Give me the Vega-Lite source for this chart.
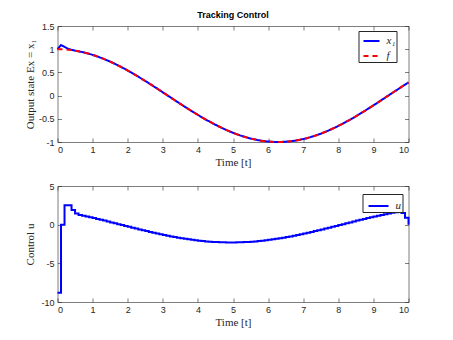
{
  "$schema": "https://vega.github.io/schema/vega-lite/v6.json",
  "background": "white",
  "padding": {"left": 23.5, "top": 11, "right": 5, "bottom": 5},
  "datasets": {
    "top": [
      {"t":0,"x1":1,"f":1},{"t":0.1,"x1":1.09,"f":0.999},{"t":0.2,"x1":1.05,"f":0.995},{"t":0.3,"x1":1.01,"f":0.989},{"t":0.4,"x1":0.985,"f":0.98},
      {"t":0.5,"x1":0.969,"f":0.969},{"t":0.6,"x1":0.955,"f":0.955},{"t":0.7,"x1":0.939,"f":0.939},{"t":0.8,"x1":0.921,"f":0.921},{"t":0.9,"x1":0.9,"f":0.9},
      {"t":1,"x1":0.878,"f":0.878},{"t":1.1,"x1":0.853,"f":0.853},{"t":1.2,"x1":0.825,"f":0.825},{"t":1.3,"x1":0.796,"f":0.796},{"t":1.4,"x1":0.765,"f":0.765},
      {"t":1.5,"x1":0.732,"f":0.732},{"t":1.6,"x1":0.697,"f":0.697},{"t":1.7,"x1":0.66,"f":0.66},{"t":1.8,"x1":0.622,"f":0.622},{"t":1.9,"x1":0.582,"f":0.582},
      {"t":2,"x1":0.54,"f":0.54},{"t":2.1,"x1":0.498,"f":0.498},{"t":2.2,"x1":0.454,"f":0.454},{"t":2.3,"x1":0.408,"f":0.408},{"t":2.4,"x1":0.362,"f":0.362},
      {"t":2.5,"x1":0.315,"f":0.315},{"t":2.6,"x1":0.268,"f":0.268},{"t":2.7,"x1":0.219,"f":0.219},{"t":2.8,"x1":0.17,"f":0.17},{"t":2.9,"x1":0.121,"f":0.121},
      {"t":3,"x1":0.071,"f":0.071},{"t":3.1,"x1":0.021,"f":0.021},{"t":3.2,"x1":-0.029,"f":-0.029},{"t":3.3,"x1":-0.079,"f":-0.079},{"t":3.4,"x1":-0.129,"f":-0.129},
      {"t":3.5,"x1":-0.178,"f":-0.178},{"t":3.6,"x1":-0.227,"f":-0.227},{"t":3.7,"x1":-0.276,"f":-0.276},{"t":3.8,"x1":-0.323,"f":-0.323},{"t":3.9,"x1":-0.37,"f":-0.37},
      {"t":4,"x1":-0.416,"f":-0.416},{"t":4.1,"x1":-0.461,"f":-0.461},{"t":4.2,"x1":-0.505,"f":-0.505},{"t":4.3,"x1":-0.547,"f":-0.547},{"t":4.4,"x1":-0.589,"f":-0.589},
      {"t":4.5,"x1":-0.628,"f":-0.628},{"t":4.6,"x1":-0.666,"f":-0.666},{"t":4.7,"x1":-0.703,"f":-0.703},{"t":4.8,"x1":-0.737,"f":-0.737},{"t":4.9,"x1":-0.77,"f":-0.77},
      {"t":5,"x1":-0.801,"f":-0.801},{"t":5.1,"x1":-0.83,"f":-0.83},{"t":5.2,"x1":-0.857,"f":-0.857},{"t":5.3,"x1":-0.882,"f":-0.882},{"t":5.4,"x1":-0.904,"f":-0.904},
      {"t":5.5,"x1":-0.924,"f":-0.924},{"t":5.6,"x1":-0.942,"f":-0.942},{"t":5.7,"x1":-0.958,"f":-0.958},{"t":5.8,"x1":-0.971,"f":-0.971},{"t":5.9,"x1":-0.982,"f":-0.982},
      {"t":6,"x1":-0.99,"f":-0.99},{"t":6.1,"x1":-0.996,"f":-0.996},{"t":6.2,"x1":-0.999,"f":-0.999},{"t":6.3,"x1":-1,"f":-1},{"t":6.4,"x1":-0.998,"f":-0.998},
      {"t":6.5,"x1":-0.994,"f":-0.994},{"t":6.6,"x1":-0.987,"f":-0.987},{"t":6.7,"x1":-0.978,"f":-0.978},{"t":6.8,"x1":-0.967,"f":-0.967},{"t":6.9,"x1":-0.953,"f":-0.953},
      {"t":7,"x1":-0.936,"f":-0.936},{"t":7.1,"x1":-0.918,"f":-0.918},{"t":7.2,"x1":-0.897,"f":-0.897},{"t":7.3,"x1":-0.874,"f":-0.874},{"t":7.4,"x1":-0.848,"f":-0.848},
      {"t":7.5,"x1":-0.821,"f":-0.821},{"t":7.6,"x1":-0.791,"f":-0.791},{"t":7.7,"x1":-0.759,"f":-0.759},{"t":7.8,"x1":-0.726,"f":-0.726},{"t":7.9,"x1":-0.691,"f":-0.691},
      {"t":8,"x1":-0.654,"f":-0.654},{"t":8.1,"x1":-0.615,"f":-0.615},{"t":8.2,"x1":-0.575,"f":-0.575},{"t":8.3,"x1":-0.533,"f":-0.533},{"t":8.4,"x1":-0.49,"f":-0.49},
      {"t":8.5,"x1":-0.446,"f":-0.446},{"t":8.6,"x1":-0.401,"f":-0.401},{"t":8.7,"x1":-0.355,"f":-0.355},{"t":8.8,"x1":-0.307,"f":-0.307},{"t":8.9,"x1":-0.259,"f":-0.259},
      {"t":9,"x1":-0.211,"f":-0.211},{"t":9.1,"x1":-0.162,"f":-0.162},{"t":9.2,"x1":-0.112,"f":-0.112},{"t":9.3,"x1":-0.062,"f":-0.062},{"t":9.4,"x1":-0.012,"f":-0.012},
      {"t":9.5,"x1":0.038,"f":0.038},{"t":9.6,"x1":0.088,"f":0.088},{"t":9.7,"x1":0.137,"f":0.137},{"t":9.8,"x1":0.187,"f":0.187},{"t":9.9,"x1":0.235,"f":0.235},
      {"t":10,"x1":0.284,"f":0.284}
    ],
    "ctrl": [
      {"t":0,"u":-8.8},{"t":0.1,"u":0},{"t":0.2,"u":2.5},{"t":0.3,"u":2.5},{"t":0.4,"u":1.9},
      {"t":0.5,"u":1.45},{"t":0.6,"u":1.26},{"t":0.7,"u":1.16},{"t":0.8,"u":1.06},{"t":0.9,"u":0.957},
      {"t":1,"u":0.851},{"t":1.1,"u":0.744},{"t":1.2,"u":0.634},{"t":1.3,"u":0.523},{"t":1.4,"u":0.41},
      {"t":1.5,"u":0.296},{"t":1.6,"u":0.182},{"t":1.7,"u":0.067},{"t":1.8,"u":-0.048},{"t":1.9,"u":-0.163},
      {"t":2,"u":-0.277},{"t":2.1,"u":-0.391},{"t":2.2,"u":-0.504},{"t":2.3,"u":-0.615},{"t":2.4,"u":-0.725},
      {"t":2.5,"u":-0.833},{"t":2.6,"u":-0.94},{"t":2.7,"u":-1.043},{"t":2.8,"u":-1.144},{"t":2.9,"u":-1.243},
      {"t":3,"u":-1.338},{"t":3.1,"u":-1.43},{"t":3.2,"u":-1.518},{"t":3.3,"u":-1.602},{"t":3.4,"u":-1.683},
      {"t":3.5,"u":-1.759},{"t":3.6,"u":-1.831},{"t":3.7,"u":-1.898},{"t":3.8,"u":-1.961},{"t":3.9,"u":-2.018},
      {"t":4,"u":-2.071},{"t":4.1,"u":-2.118},{"t":4.2,"u":-2.161},{"t":4.3,"u":-2.197},{"t":4.4,"u":-2.228},
      {"t":4.5,"u":-2.254},{"t":4.6,"u":-2.274},{"t":4.7,"u":-2.289},{"t":4.8,"u":-2.297},{"t":4.9,"u":-2.3},
      {"t":5,"u":-2.297},{"t":5.1,"u":-2.289},{"t":5.2,"u":-2.274},{"t":5.3,"u":-2.254},{"t":5.4,"u":-2.228},
      {"t":5.5,"u":-2.197},{"t":5.6,"u":-2.161},{"t":5.7,"u":-2.118},{"t":5.8,"u":-2.071},{"t":5.9,"u":-2.018},
      {"t":6,"u":-1.961},{"t":6.1,"u":-1.898},{"t":6.2,"u":-1.831},{"t":6.3,"u":-1.759},{"t":6.4,"u":-1.683},
      {"t":6.5,"u":-1.602},{"t":6.6,"u":-1.518},{"t":6.7,"u":-1.43},{"t":6.8,"u":-1.338},{"t":6.9,"u":-1.243},
      {"t":7,"u":-1.144},{"t":7.1,"u":-1.043},{"t":7.2,"u":-0.94},{"t":7.3,"u":-0.833},{"t":7.4,"u":-0.725},
      {"t":7.5,"u":-0.615},{"t":7.6,"u":-0.504},{"t":7.7,"u":-0.391},{"t":7.8,"u":-0.277},{"t":7.9,"u":-0.163},
      {"t":8,"u":-0.048},{"t":8.1,"u":0.067},{"t":8.2,"u":0.182},{"t":8.3,"u":0.296},{"t":8.4,"u":0.41},
      {"t":8.5,"u":0.523},{"t":8.6,"u":0.634},{"t":8.7,"u":0.744},{"t":8.8,"u":0.851},{"t":8.9,"u":0.957},
      {"t":9,"u":1.06},{"t":9.1,"u":1.161},{"t":9.2,"u":1.259},{"t":9.3,"u":1.354},{"t":9.4,"u":1.445},
      {"t":9.5,"u":1.532},{"t":9.6,"u":1.616},{"t":9.7,"u":1.7},{"t":9.8,"u":1.5},{"t":9.9,"u":0.9},
      {"t":10,"u":0}
    ]
  },
  "config": {
    "font": "Liberation Sans",
    "view": {"stroke": null},
    "axis": {
      "grid": false,
      "labelFont": "Liberation Sans", "labelFontSize": 9, "labelColor": "#262626",
      "domainColor": "#262626", "domainWidth": 0.6,
      "tickColor": "#262626", "tickWidth": 0.6, "tickSize": -4,
      "titleFont": "Liberation Serif", "titleFontSize": 11, "titleFontWeight": "normal", "titleColor": "#262626"
    },
    "axisX": {"labelPadding": 7, "titlePadding": 2},
    "axisY": {"labelPadding": 7.5, "titlePadding": 6},
    "legend": {
      "orient": "none",
      "strokeColor": "#262626", "fillColor": "white", "padding": 1, "cornerRadius": 0,
      "symbolType": "stroke", "symbolStrokeWidth": 2, "symbolSize": 256, "symbolOffset": 3, "labelOffset": 6,
      "labelFont": "Liberation Serif", "labelFontStyle": "italic", "labelFontSize": 11, "labelColor": "#262626",
      "rowPadding": 1, "title": null
    }
  },
  "bounds": "flush",
  "spacing": 44,
  "resolve": {"scale": {"color": "independent", "strokeDash": "independent"}},
  "vconcat": [
    {
      "width": 351, "height": 116,
      "title": {"text": "Tracking Control", "font": "Liberation Sans", "fontSize": 9, "fontWeight": "bold", "color": "#000000", "offset": 2},
      "data": {"name": "top"},
      "layer": [
        {
          "transform": [{"fold": ["x1"], "as": ["series", "value"]}],
          "mark": {"type": "line", "strokeWidth": 2},
          "encoding": {
            "x": {"field": "t", "type": "quantitative", "scale": {"domain": [0, 10], "nice": false},
                  "axis": {"values": [0,1,2,3,4,5,6,7,8,9,10], "title": "Time [t]", "labelExpr": "'' + datum.value"}},
            "y": {"field": "value", "type": "quantitative", "scale": {"domain": [-1, 1.5], "nice": false},
                  "axis": {"values": [-1,-0.5,0,0.5,1,1.5], "title": "Output state Ex = x₁", "labelExpr": "'' + datum.value", "titleX": -27, "titleBaseline": "middle"}},
            "color": {"field": "series", "type": "nominal", "scale": {"domain": ["x1", "f"], "range": ["#0000ff", "#ff0000"]},
                      "legend": {"labelExpr": "datum.label == 'x1' ? 'x₁' : datum.label", "legendX": 301, "legendY": 5}},
            "strokeDash": {"field": "series", "type": "nominal", "scale": {"domain": ["x1", "f"], "range": [[1, 0], [5, 4]]},
                      "legend": {"labelExpr": "datum.label == 'x1' ? 'x₁' : datum.label", "legendX": 301, "legendY": 5}}
          }
        },
        {
          "transform": [{"fold": ["f"], "as": ["series", "value"]}],
          "mark": {"type": "line", "strokeWidth": 2},
          "encoding": {
            "x": {"field": "t", "type": "quantitative", "axis": null},
            "y": {"field": "value", "type": "quantitative", "axis": null},
            "color": {"field": "series", "type": "nominal", "legend": {"labelExpr": "datum.label == 'x1' ? 'x₁' : datum.label", "legendX": 301, "legendY": 5}},
            "strokeDash": {"field": "series", "type": "nominal", "legend": {"labelExpr": "datum.label == 'x1' ? 'x₁' : datum.label", "legendX": 301, "legendY": 5}}
          }
        },
        {
          "mark": {"type": "point", "opacity": 0, "size": 1},
          "encoding": {
            "x": {"field": "t", "type": "quantitative", "axis": {"orient": "top", "values": [0,1,2,3,4,5,6,7,8,9,10], "labels": false, "title": null}},
            "y": {"field": "f", "type": "quantitative", "axis": {"orient": "right", "values": [-1,-0.5,0,0.5,1,1.5], "labels": false, "title": null}}
          }
        }
      ],
      "resolve": {"axis": {"x": "independent", "y": "independent"}}
    },
    {
      "width": 351, "height": 116,
      "data": {"name": "ctrl"},
      "layer": [
        {
          "mark": {"type": "line", "strokeWidth": 2, "interpolate": "step-after"},
          "encoding": {
            "x": {"field": "t", "type": "quantitative", "scale": {"domain": [0, 10], "nice": false},
                  "axis": {"values": [0,1,2,3,4,5,6,7,8,9,10], "title": "Time [t]", "labelExpr": "'' + datum.value"}},
            "y": {"field": "u", "type": "quantitative", "scale": {"domain": [-10, 5], "nice": false},
                  "axis": {"values": [-10,-5,0,5], "title": "Control u", "labelExpr": "'' + datum.value", "titleX": -27, "titleBaseline": "middle"}},
            "color": {"datum": "u", "type": "nominal", "scale": {"domain": ["u"], "range": ["#0000ff"]},
                      "legend": {"legendX": 305, "legendY": 8, "padding": 1, "symbolSize": 400, "symbolOffset": 4, "labelFontSize": 11}}
          }
        },
        {
          "mark": {"type": "point", "opacity": 0, "size": 1},
          "encoding": {
            "x": {"field": "t", "type": "quantitative", "axis": {"orient": "top", "values": [0,1,2,3,4,5,6,7,8,9,10], "labels": false, "title": null}},
            "y": {"field": "u", "type": "quantitative", "axis": {"orient": "right", "values": [-10,-5,0,5], "labels": false, "title": null}}
          }
        }
      ],
      "resolve": {"axis": {"x": "independent", "y": "independent"}}
    }
  ]
}
